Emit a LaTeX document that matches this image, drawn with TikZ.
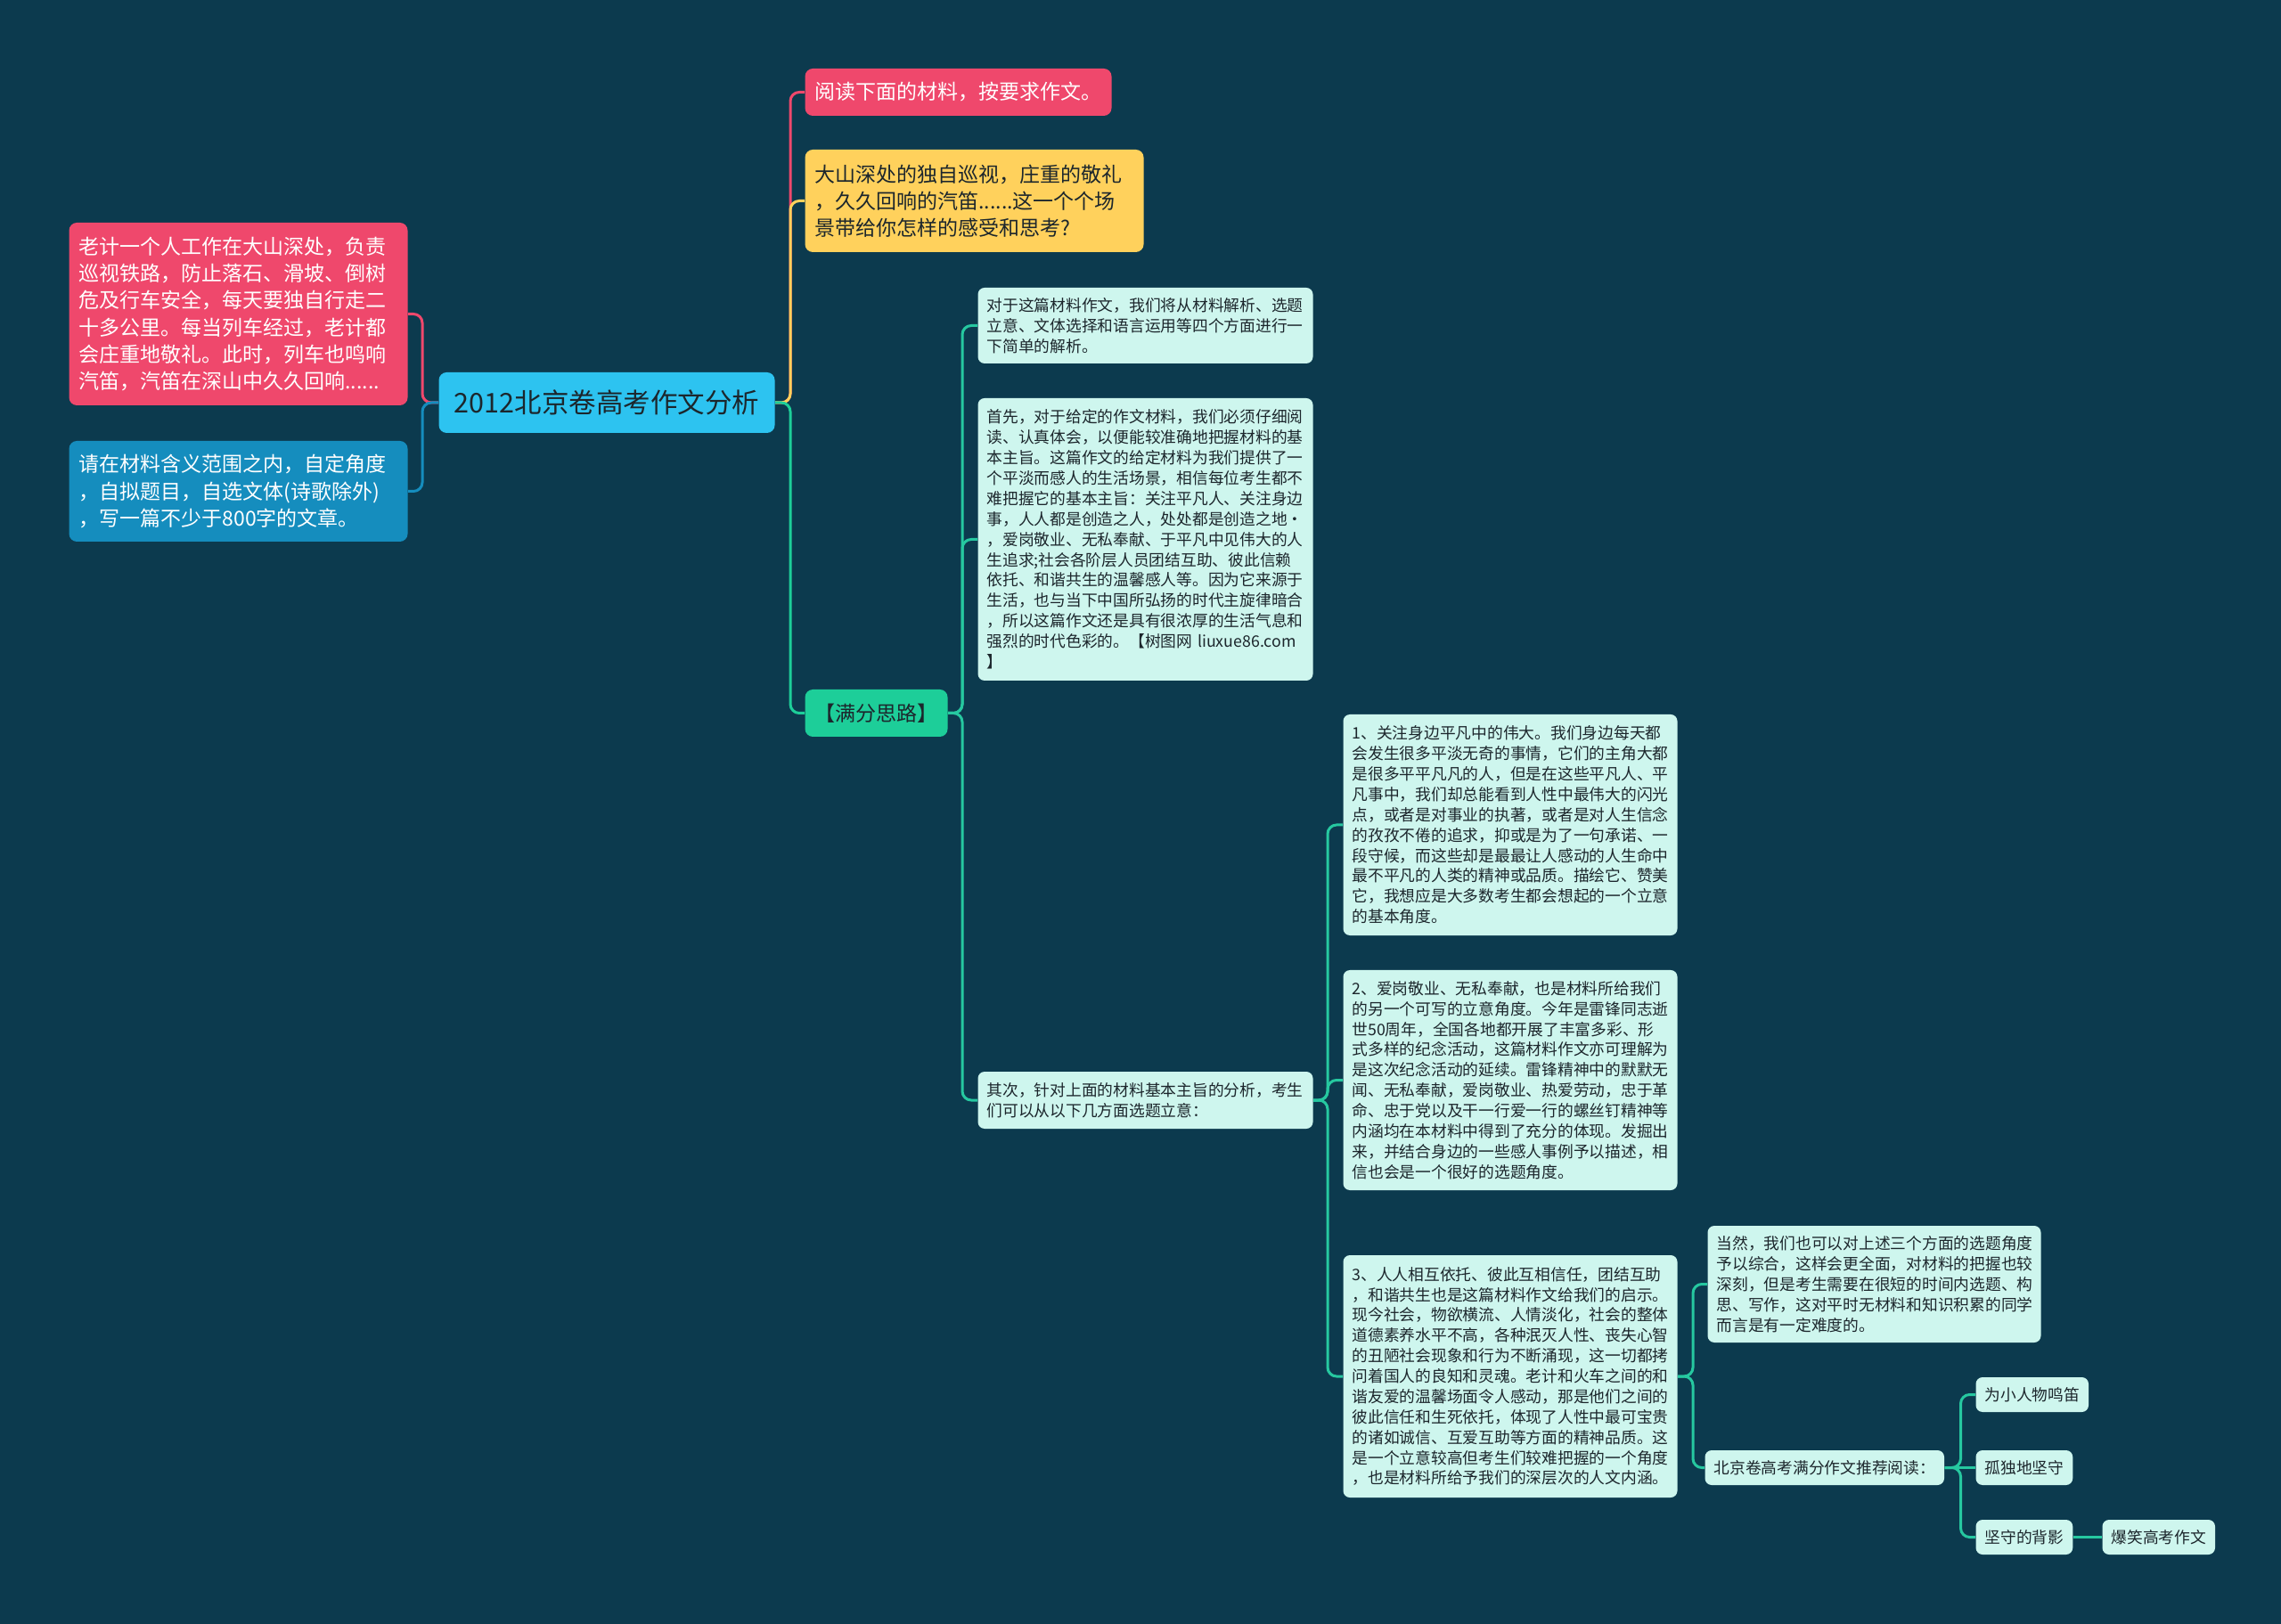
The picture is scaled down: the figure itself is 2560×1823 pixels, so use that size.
\documentclass[tikz,border=0pt]{standalone}
\usepackage{fontspec}
\setmainfont{Noto Sans CJK SC}
\usepackage{xcolor}
\usepackage{tikz}
\usetikzlibrary{positioning, calc}
\definecolor{mapBg}{RGB}{12, 58, 78}
\definecolor{mapRose}{RGB}{239, 72, 108}
\definecolor{mapGold}{RGB}{255, 209, 92}
\definecolor{mapSky}{RGB}{45, 195, 240}
\definecolor{mapOcean}{RGB}{21, 141, 190}
\definecolor{mapGreen}{RGB}{29, 206, 153}
\definecolor{mapMint}{RGB}{206, 246, 238}
\definecolor{mapTeal}{RGB}{38, 200, 160}
\definecolor{mapInk}{RGB}{28, 38, 44}
\newcommand{\roottxt}{\fontsize{12.2pt}{14.4pt}\selectfont}
\newcommand{\bigtxt}{\fontsize{9.2pt}{12.1pt}\selectfont}
\newcommand{\smalltxt}{\fontsize{7.1pt}{9.15pt}\selectfont}

\begin{document}
\begin{tikzpicture}[
    x=0.4pt, y=-0.4pt,
    topic/.style={rectangle, rounded corners=3.5pt, anchor=west, inner xsep=4.4pt,
        inner ysep=2pt, align=left, font=\bigtxt},
    leaf/.style={rectangle, rounded corners=3pt, anchor=west, fill=mapMint, text=mapInk,
        inner xsep=4pt, inner ysep=2pt, align=left, font=\smalltxt},
    link/.style={line width=1.2pt, rounded corners=4pt}
]
\fill[mapBg] (0,0) rectangle (2560,1823);

% centre and left side
\node[topic, fill=mapSky, text=mapInk, font=\roottxt, align=center, minimum width=150.8pt,
    minimum height=27.2pt] (root) at (492,452) {2012北京卷高考作文分析};
\node[topic, fill=mapRose, text=white, text width=143.2pt, minimum height=82pt] (story) at (77,352.5)
    {老计一个人工作在大山深处，负责\\巡视铁路，防止落石、滑坡、倒树\\危及行车安全，每天要独自行走二\\十多公里。每当列车经过，老计都\\会庄重地敬礼。此时，列车也鸣响\\汽笛，汽笛在深山中久久回响......};
\node[topic, fill=mapOcean, text=white, text width=143.2pt, minimum height=45.2pt] (rule) at (77,551.5)
    {请在材料含义范围之内，自定角度\\，自拟题目，自选文体(诗歌除外)\\，写一篇不少于800字的文章。};

% right side, first level
\node[topic, fill=mapRose, text=white, minimum height=21.2pt] (task) at (903,103.5) {阅读下面的材料，按要求作文。};
\node[topic, fill=mapGold, text=mapInk, text width=143.2pt, minimum height=46pt] (scene) at (903,225.5)
    {大山深处的独自巡视，庄重的敬礼\\，久久回响的汽笛......这一个个场\\景带给你怎样的感受和思考?};
\node[topic, fill=mapGreen, text=mapInk, minimum height=21.2pt] (plan) at (903,800.5) {【满分思路】};

% analysis
\node[leaf, text width=142.4pt, minimum height=34pt] (c1) at (1097,365.5)
    {对于这篇材料作文，我们将从材料解析、选题\\立意、文体选择和语言运用等四个方面进行一\\下简单的解析。};
\node[leaf, text width=142.4pt, minimum height=126.8pt] (c2) at (1097,605.5)
    {首先，对于给定的作文材料，我们必须仔细阅\\读、认真体会，以便能较准确地把握材料的基\\本主旨。这篇作文的给定材料为我们提供了一\\个平淡而感人的生活场景，相信每位考生都不\\难把握它的基本主旨：关注平凡人、关注身边\\事，人人都是创造之人，处处都是创造之地•\\，爱岗敬业、无私奉献、于平凡中见伟大的人\\生追求;社会各阶层人员团结互助、彼此信赖\\依托、和谐共生的温馨感人等。因为它来源于\\生活，也与当下中国所弘扬的时代主旋律暗合\\，所以这篇作文还是具有很浓厚的生活气息和\\强烈的时代色彩的。【树图网 liuxue86.com\\】};
\node[leaf, text width=142.4pt, minimum height=25.6pt] (c3) at (1097,1235)
    {其次，针对上面的材料基本主旨的分析，考生\\们可以从以下几方面选题立意：};

% angles
\node[leaf, text width=142pt, minimum height=99.2pt] (d1) at (1507,926)
    {1、关注身边平凡中的伟大。我们身边每天都\\会发生很多平淡无奇的事情，它们的主角大都\\是很多平平凡凡的人，但是在这些平凡人、平\\凡事中，我们却总能看到人性中最伟大的闪光\\点，或者是对事业的执著，或者是对人生信念\\的孜孜不倦的追求，抑或是为了一句承诺、一\\段守候，而这些却是最最让人感动的人生命中\\最不平凡的人类的精神或品质。描绘它、赞美\\它，我想应是大多数考生都会想起的一个立意\\的基本角度。};
\node[leaf, text width=142pt, minimum height=98.8pt] (d2) at (1507,1212.5)
    {2、爱岗敬业、无私奉献，也是材料所给我们\\的另一个可写的立意角度。今年是雷锋同志逝\\世50周年，全国各地都开展了丰富多彩、形\\式多样的纪念活动，这篇材料作文亦可理解为\\是这次纪念活动的延续。雷锋精神中的默默无\\闻、无私奉献，爱岗敬业、热爱劳动，忠于革\\命、忠于党以及干一行爱一行的螺丝钉精神等\\内涵均在本材料中得到了充分的体现。发掘出\\来，并结合身边的一些感人事例予以描述，相\\信也会是一个很好的选题角度。};
\node[leaf, text width=142pt, minimum height=108.8pt] (d3) at (1507,1545)
    {3、人人相互依托、彼此互相信任，团结互助\\，和谐共生也是这篇材料作文给我们的启示。\\现今社会，物欲横流、人情淡化，社会的整体\\道德素养水平不高，各种泯灭人性、丧失心智\\的丑陋社会现象和行为不断涌现，这一切都拷\\问着国人的良知和灵魂。老计和火车之间的和\\谐友爱的温馨场面令人感动，那是他们之间的\\彼此信任和生死依托，体现了人性中最可宝贵\\的诸如诚信、互爱互助等方面的精神品质。这\\是一个立意较高但考生们较难把握的一个角度\\，也是材料所给予我们的深层次的人文内涵。};

% last level
\node[leaf, text width=141.6pt, minimum height=52.4pt] (e1) at (1916,1441.5)
    {当然，我们也可以对上述三个方面的选题角度\\予以综合，这样会更全面，对材料的把握也较\\深刻，但是考生需要在很短的时间内选题、构\\思、写作，这对平时无材料和知识积累的同学\\而言是有一定难度的。};
\node[leaf, minimum height=15.6pt] (e2) at (1913,1647.5) {北京卷高考满分作文推荐阅读：};
\node[leaf, minimum height=15.6pt] (f1) at (2217,1565.5) {为小人物鸣笛};
\node[leaf, minimum height=15.6pt] (f2) at (2217,1647.5) {孤独地坚守};
\node[leaf, minimum height=15.6pt] (f3) at (2217,1725.5) {坚守的背影};
\node[leaf, minimum height=15.6pt] (g1) at (2359,1725.5) {爆笑高考作文};

% connectors
\draw[link, mapRose] (root.west) -- ++(-18,0) |- (story.east);
\draw[link, mapOcean] (root.west) -- ++(-18,0) |- (rule.east);
\draw[link, mapRose] (root.east) -- ++(17,0) |- (task.west);
\draw[link, mapGold] (root.east) -- ++(17,0) |- (scene.west);
\draw[link, mapGreen] (root.east) -- ++(17,0) |- (plan.west);
\foreach \b in {c1, c2, c3}
    \draw[link, mapTeal] (plan.east) -- ++(16,0) |- (\b.west);
\foreach \b in {d1, d2, d3}
    \draw[link, mapTeal] (c3.east) -- ++(16,0) |- (\b.west);
\foreach \b in {e1, e2}
    \draw[link, mapTeal] (d3.east) -- ++(17,0) |- (\b.west);
\foreach \b in {f1, f3}
    \draw[link, mapTeal] (e2.east) -- ++(18,0) |- (\b.west);
\draw[link, mapTeal] (e2) -- (f2);
\draw[link, mapTeal] (f3) -- (g1);
\end{tikzpicture}
\end{document}
